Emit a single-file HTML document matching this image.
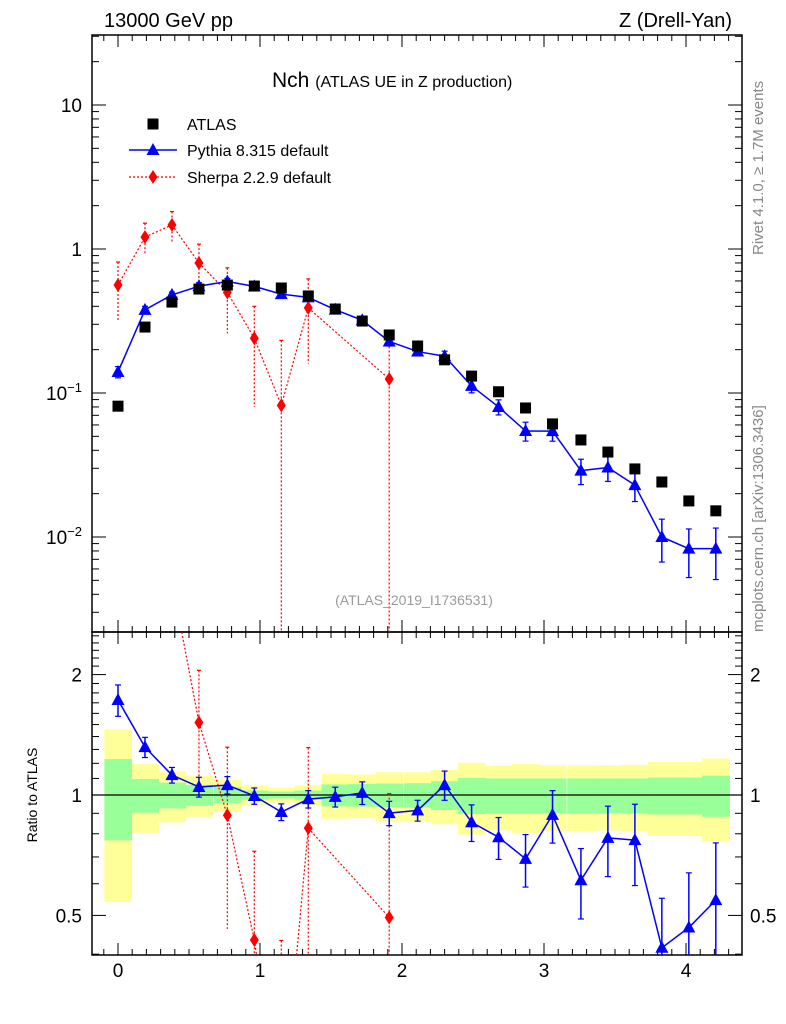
<!DOCTYPE html>
<html><head><meta charset="utf-8"><style>
html,body{margin:0;padding:0;background:#fff;width:786px;height:1024px;overflow:hidden;}
svg{display:block;font-family:"Liberation Sans",sans-serif;}
</style></head><body>
<svg id="nchChart" width="786" height="1024" viewBox="0 0 786 1024" xmlns="http://www.w3.org/2000/svg">
<g id="nchLayer"></g>
</svg>
<script>
var nchXVals=[0,0.19,0.38,0.57,0.77,0.96,1.15,1.34,1.53,1.72,1.91,2.11,2.30,2.49,2.68,2.87,3.06,3.26,3.45,3.64,3.83,4.02,4.21];
var nchAtlasVals=[0.081,0.287,0.428,0.527,0.562,0.553,0.536,0.472,0.383,0.316,0.253,0.212,0.170,0.131,0.102,0.0787,0.061,0.0472,0.0389,0.0297,0.0241,0.0178,0.0152];
var nchAtlasStatRel=[0.23,0.097,0.074,0.06,0.046,0.026,0.02,0.026,0.063,0.065,0.068,0.07,0.083,0.104,0.1,0.1,0.1,0.1,0.1,0.1,0.106,0.106,0.118];
var nchAtlasTotRel=[0.46,0.196,0.146,0.118,0.092,0.057,0.043,0.057,0.128,0.125,0.14,0.14,0.155,0.204,0.184,0.196,0.187,0.187,0.185,0.19,0.21,0.21,0.234];
var nchPythiaVals=[0.140,0.378,0.480,0.552,0.595,0.550,0.486,0.461,0.379,0.320,0.228,0.194,0.180,0.112,0.080,0.0545,0.0544,0.0289,0.0304,0.0229,0.0100,0.0083,0.0083];
var nchPythiaRel=[0.09,0.058,0.045,0.057,0.05,0.047,0.048,0.05,0.057,0.065,0.07,0.06,0.084,0.105,0.12,0.15,0.15,0.2,0.2,0.23,0.33,0.37,0.39];
var nchSherpaX=[0,0.19,0.38,0.57,0.77,0.96,1.15,1.34,1.91];
var nchSherpaVals=[0.562,1.21,1.47,0.80,0.50,0.24,0.082,0.39,0.125];
var nchSherpaErr=[0.25,0.3,0.35,0.28,0.24,0.16,0.15,0.23,0.13];
var nchSherpaAtlasIdx=[0,1,2,3,4,5,6,7,10];
var nchXTicks=[0,1,2,3,4];

(function(){
var NS="http://www.w3.org/2000/svg";
var pL=92,pR=742,pT=35,pMB=632,pRB=955;
function sx(v){return 118+v*142;}
function ym(v){return 249-Math.log10(v)*144;}
function yr(v){return 795-Math.log10(v)*400;}
var layer=document.getElementById('nchLayer');
function mk(tag,attrs,parent){var e=document.createElementNS(NS,tag);for(var k in attrs)e.setAttribute(k,attrs[k]);(parent||layer).appendChild(e);return e;}

var bands=mk('g',{});


var hw=0.0958*142;
function bandRect(x,rel,fill,name){
  var y0=Math.max(pMB,yr(1+rel)),y1=Math.min(pRB,yr(1-rel));
  var r=mk('rect',{x:sx(x)-hw,y:y0,width:2*hw+0.5,height:y1-y0,fill:fill},bands);
  
  
}
nchXVals.forEach(function(x,i){bandRect(x,nchAtlasTotRel[i],'#ffff99','total-band-bin');});
nchXVals.forEach(function(x,i){bandRect(x,nchAtlasStatRel[i],'#99ff99','stat-band-bin');});
var one=mk('line',{x1:pL,x2:pR,y1:yr(1),y2:yr(1),stroke:'#000','stroke-width':1.2});



function frame(y0,y1,name){var f=mk('rect',{x:pL,y:y0,width:pR-pL,height:y1-y0,fill:'none',stroke:'#000','stroke-width':1.5});}
frame(pT,pMB,'main-plot-frame');frame(pMB,pRB,'ratio-plot-frame');

var tg=mk('g',{stroke:'#000','stroke-width':1});


for(var k=-1;k<=44;k++){var xx=sx(k/10);if(xx<pL||xx>pR)continue;var len=(k%10===0)?12:6;
  var sets=[[pT,1],[pMB,-1],[pMB,1],[pRB,-1]];
  for(var s=0;s<sets.length;s++)mk('line',{x1:xx,x2:xx,y1:sets[s][0],y2:sets[s][0]+sets[s][1]*len},tg);}
nchXTicks.forEach(function(v){var t=mk('text',{x:sx(v),y:977,'font-size':19,'text-anchor':'middle'});t.textContent=String(v);
  
  });

var yg=mk('g',{stroke:'#000','stroke-width':1});


for(var e=-3;e<=1;e++)for(var m=1;m<=9;m++){var v=m*Math.pow(10,e);var y=ym(v);if(y<pT||y>pMB)continue;var ln=m===1?14:7;
  mk('line',{x1:pL,x2:pL+ln,y1:y,y2:y},yg);mk('line',{x1:pR,x2:pR-ln,y1:y,y2:y},yg);}
[[10,'10',''],[1,'1',''],[0.1,'10','\u22121'],[0.01,'10','\u22122']].forEach(function(a){
  var t=mk('text',{x:82,y:ym(a[0])+7,'font-size':19,'text-anchor':'end'});
  
  
  if(a[2]){var p=mk('tspan',{},t);p.textContent=a[1];var q=mk('tspan',{dy:-8,'font-size':13},t);q.textContent=a[2];}else t.textContent=a[1];
});
var rg=mk('g',{stroke:'#000','stroke-width':1});


[0.4,0.5,0.6,0.7,0.8,0.9,1,1.1,1.2,1.3,1.4,1.5,1.6,1.7,1.8,1.9,2,2.1,2.2,2.3,2.4,2.5].forEach(function(v){var y=yr(v);if(y<pMB||y>pRB)return;
  var big=(Math.abs(v-0.5)<1e-9||Math.abs(v-1)<1e-9||Math.abs(v-2)<1e-9);var ln=big?14:7;
  mk('line',{x1:pL,x2:pL+ln,y1:y,y2:y},rg);mk('line',{x1:pR,x2:pR-ln,y1:y,y2:y},rg);});
[[2,'2'],[1,'1'],[0.5,'0.5']].forEach(function(a){
  var t=mk('text',{x:82,y:yr(a[0])+7,'font-size':19,'text-anchor':'end'});t.textContent=a[1];
  
  
  var t2=mk('text',{x:750,y:yr(a[0])+7,'font-size':19});t2.textContent=a[1];
  
  
});

function tri(g,x,y,c){return mk('path',{d:'M'+x+' '+(y-7)+'L'+(x+6.5)+' '+(y+5)+'L'+(x-6.5)+' '+(y+5)+'Z',fill:c},g);}
function dia(g,x,y,c){return mk('path',{d:'M'+x+' '+(y-7)+'L'+(x+4.5)+' '+y+'L'+x+' '+(y+7)+'L'+(x-4.5)+' '+y+'Z',fill:c},g);}

// draws segment clipped to [top,bottom] in y
function clipSeg(g,x1,y1,x2,y2,top,bottom,attrs){
  if((y1<top&&y2<top)||(y1>bottom&&y2>bottom))return;
  function cl(xa,ya,xb,yb){var yc=ya<top?top:(ya>bottom?bottom:ya);if(yc===ya)return[xa,ya];var t=(yc-ya)/(yb-ya);return[xa+(xb-xa)*t,yc];}
  var a=cl(x1,y1,x2,y2),b=cl(x2,y2,x1,y1);
  var at={x1:a[0],y1:a[1],x2:b[0],y2:b[1]};for(var k in attrs)at[k]=attrs[k];
  mk('line',at,g);
}

function drawSeries(g,xs,vals,errsAbs,yf,top,bottom,color,dashed,marker,pname){
  var la={fill:'none',stroke:color,'stroke-width':dashed?1.2:1.5};if(dashed)la['stroke-dasharray']='2,2';
  for(var i=0;i+1<xs.length;i++)clipSeg(g,sx(xs[i]),yf(vals[i]),sx(xs[i+1]),yf(vals[i+1]),top,bottom,la);
  xs.forEach(function(x,i){var v=vals[i],er=errsAbs[i];
    var hi=Math.max(top,yf(v+er));var lo=v-er>0?Math.min(bottom,yf(v-er)):bottom;
    if(hi<bottom&&lo>top){
      var ea={x1:sx(x),x2:sx(x),y1:hi,y2:lo,stroke:color,'stroke-width':dashed?1.2:1.5};if(dashed)ea['stroke-dasharray']='2,2';
      mk('line',ea,g);
      var cw=dashed?2:3;
      if(yf(v+er)>top)mk('line',{x1:sx(x)-cw,x2:sx(x)+cw,y1:hi,y2:hi,stroke:color,'stroke-width':1.2},g);
      if(!dashed&&v-er>0&&yf(v-er)<bottom)mk('line',{x1:sx(x)-cw,x2:sx(x)+cw,y1:lo,y2:lo,stroke:color,'stroke-width':1.2},g);
    }
    var yy=yf(v);
    if(yy>top-3&&yy<bottom+3){
      var mkr=marker(g,sx(x),yy,color);
      
      
    }
  });
}

var sg=mk('g',{});


drawSeries(sg,nchSherpaX,nchSherpaVals,nchSherpaErr,ym,pT,pMB,'#f00',true,dia,'sherpa-point');

var pg=mk('g',{});


drawSeries(pg,nchXVals,nchPythiaVals,nchPythiaVals.map(function(v,i){return v*nchPythiaRel[i];}),ym,pT,pMB,'#00f',false,tri,'pythia-point');

var ag=mk('g',{});


nchXVals.forEach(function(x,i){var r=mk('rect',{x:sx(x)-5.5,y:ym(nchAtlasVals[i])-5.5,width:11,height:11,fill:'#000'},ag);
  
  });

var sr=mk('g',{});


var sRat=nchSherpaVals.map(function(v,i){return v/nchAtlasVals[nchSherpaAtlasIdx[i]];});
var sRe=nchSherpaErr.map(function(er,i){return er/nchAtlasVals[nchSherpaAtlasIdx[i]];});
drawSeries(sr,nchSherpaX,sRat,sRe,yr,pMB,pRB,'#f00',true,dia,'sherpa-ratio-point');

var pr=mk('g',{});


var pRat=nchPythiaVals.map(function(v,i){return v/nchAtlasVals[i];});
drawSeries(pr,nchXVals,pRat,pRat.map(function(v,i){return v*nchPythiaRel[i];}),yr,pMB,pRB,'#00f',false,tri,'pythia-ratio-point');

function txt(x,y,s,size,name,extra){var a={x:x,y:y,'font-size':size};if(extra)for(var k in extra)a[k]=extra[k];var t=mk('text',a);t.textContent=s;
  
  
  return t;}
txt(104,27,'13000 GeV pp',20,'energy-label');
txt(732,27,'Z (Drell-Yan)',20,'process-label',{'text-anchor':'end'});
var tt=txt(272,87,'',21,'plot-title');
var ta=mk('tspan',{},tt);ta.textContent='Nch ';var tb=mk('tspan',{'font-size':16},tt);tb.textContent='(ATLAS UE in Z production)';
txt(414,605,'(ATLAS_2019_I1736531)',14,'analysis-id',{'text-anchor':'middle',fill:'#999'});
txt(0,0,'Ratio to ATLAS',14,'ratio-y-axis-title',{transform:'translate(37,795) rotate(-90)','text-anchor':'middle'});
txt(0,0,'Rivet 4.1.0, \u2265 1.7M events',15,'rivet-version-label',{transform:'translate(763,255) rotate(-90)',fill:'#888'});
txt(0,0,'mcplots.cern.ch [arXiv:1306.3436]',15,'mcplots-label',{transform:'translate(763,632) rotate(-90)',fill:'#888'});

var lg=mk('g',{});


mk('rect',{x:147.5,y:118.5,width:11,height:11,fill:'#000'},lg);
txt(187,130,'ATLAS',16,'legend-atlas');
mk('line',{x1:129,x2:177,y1:150,y2:150,stroke:'#00f','stroke-width':1.5},lg);tri(lg,153,150,'#00f');
txt(187,156,'Pythia 8.315 default',16,'legend-pythia');
mk('line',{x1:129,x2:177,y1:177,y2:177,stroke:'#f00','stroke-width':1.2,'stroke-dasharray':'2,2'},lg);dia(lg,153,177,'#f00');
txt(187,183,'Sherpa 2.2.9 default',16,'legend-sherpa');
})();
</script>
</body></html>
